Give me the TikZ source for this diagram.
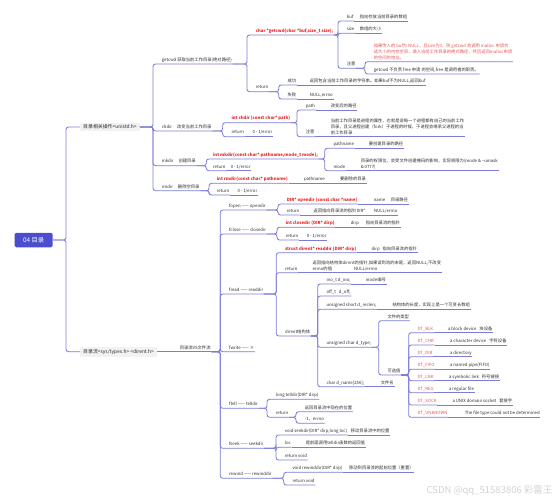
\documentclass[tikz,border=0pt]{standalone}
\usepackage{fontspec}
\setmainfont{Noto Sans CJK SC}
\usetikzlibrary{positioning}

\definecolor{linec}{RGB}{124,124,212}
\definecolor{rootc}{RGB}{76,76,206}
\definecolor{redc}{RGB}{228,38,38}
\definecolor{notec}{RGB}{226,84,84}
\definecolor{textc}{RGB}{45,45,45}
\definecolor{boxc}{RGB}{242,242,242}

\newcommand{\mapfont}{\fontsize{4.3}{6.2}\selectfont}
\newcommand{\lvfont}{\fontsize{4.9}{6}\selectfont}
\newcommand{\rootfont}{\fontsize{6.3}{7}\selectfont}

\begin{document}
\begin{tikzpicture}[x=1pt, y=-1pt,
    t/.style={font=\mapfont, text=textc, inner xsep=0.6pt, inner ysep=1.4pt, anchor=south west, text height=3.5pt, text depth=1.1pt},
    tm/.style={font=\mapfont, text=textc, inner xsep=0.6pt, inner ysep=1.4pt, anchor=south west, align=left},
    fn/.style={t, text=redc, font=\mapfont\bfseries},
    dt/.style={t, text=notec},
    lv/.style={fill=boxc, font=\lvfont, text=textc, inner xsep=3pt, inner ysep=2.2pt, anchor=west},
    root/.style={fill=rootc, text=white, font=\rootfont, rounded corners=1.5pt, minimum width=38pt, minimum height=14.5pt},
    link/.style={draw=linec, line width=0.85pt, rounded corners=2.5pt}
]
\useasboundingbox (0,0) rectangle (557,500);

% root and the two main branches
\node[root] (root) at (33.7,240) {04 目录};
\node[lv] (b1) at (80,127) {目录相关操作<unistd.h>};
\node[lv] (b2) at (80,351.7) {目录流<sys/types.h> <dirent.h>};
\draw[link] (root.east) -| ([xshift=-14pt]b1.west) -- (b1.west);
\draw[link] (root.east) -| ([xshift=-14pt]b2.west) -- (b2.west);

% directory operations
\node[t] (getcwd) at (161,64) {getcwd 获取当前工作目录(绝对路径)};
\node[t] (chdir) at (161,131) {chdir\hspace{5pt}改变当前工作目录};
\node[t] (mkdir) at (161,165.7) {mkdir\hspace{5pt}创建目录};
\node[t] (rmdir) at (161,190.7) {rmdir\hspace{5pt}删除空目录};
\foreach \c in {getcwd,chdir,mkdir,rmdir}
  \draw[link] (b1.east) -| ([xshift=-8pt]\c.south west) -- (\c.south east);

% getcwd
\node[fn] (gcfun) at (255,35) {char *getcwd(char *buf,size\_t size);};
\node[t] (gcret) at (255,91.7) {return};
\foreach \c in {gcfun,gcret}
  \draw[link] (getcwd.south east) -| ([xshift=-8pt]\c.south west) -- (\c.south east);
\node[t] (gcbuf) at (346,21) {buf};
\node[t] (gcbufd) at (359,21) {指向存放当前目录的数组};
\node[t] (gcsize) at (346,33.3) {size};
\node[t] (gcsized) at (359,33.3) {数组的大小};
\node[t] (gcnote) at (346,68.3) {注意};
\foreach \c in {gcbuf,gcsize,gcnote}
  \draw[link] (gcfun.south east) -| ([xshift=-8pt]\c.south west) -- (\c.south east);
\draw[link] (gcbuf.south east) -- (gcbufd.south east);
\draw[link] (gcsize.south east) -- (gcsized.south east);
\node[tm, text=notec] (gcn1) at (373,61.7) {如果传入的 buf为 NULL，且size为0，则 getcwd 会调用 malloc 申请合\\适大小的内存空间，填入当前工作目录的绝对路径，然后返回malloc申请\\的空间的地址。};
\node[t] (gcn2) at (373,74) {getcwd 不负责 free 申请 的空间,free 是调用者的职责。};
\foreach \c in {gcn1,gcn2}
  \draw[link] (gcnote.south east) -| ([xshift=-8pt]\c.south west) -- (\c.south east);
\node[t] (gcok) at (286.7,85) {成功};
\node[t] (gcokd) at (309,85) {返回包含当前工作目录的字符串。如果buf不为NULL,返回buf};
\node[t] (gcfail) at (286.7,99) {失败};
\node[t] (gcfaild) at (309,99) {NULL,errno};
\foreach \c in {gcok,gcfail}
  \draw[link] (gcret.south east) -| ([xshift=-8pt]\c.south west) -- (\c.south east);
\draw[link] (gcok.south east) -- (gcokd.south east);
\draw[link] (gcfail.south east) -- (gcfaild.south east);

% chdir
\node[fn] (cdfun) at (230.7,122.7) {int chdir (const char* path)};
\node[t] (cdret) at (230.7,136.7) {return};
\node[t] (cdretd) at (251.7,136.7) {0 - 1/error};
\foreach \c in {cdfun,cdret}
  \draw[link] (chdir.south east) -| ([xshift=-8pt]\c.south west) -- (\c.south east);
\draw[link] (cdret.south east) -- (cdretd.south east);
\node[t] (cdpath) at (305,110) {path};
\node[t] (cdpathd) at (330,110) {改变后的路径};
\node[t] (cdnote) at (305,136.7) {注意};
\node[tm] (cdnoted) at (330,136.7) {当前工作目录是进程的属性，也就是说每一个进程都有自己的当前工作\\目录，且父进程创建（fork）子进程的时候，子进程会继承父进程的当\\前工作目录};
\foreach \c in {cdpath,cdnote}
  \draw[link] (cdfun.south east) -| ([xshift=-8pt]\c.south west) -- (\c.south east);
\draw[link] (cdpath.south east) -- (cdpathd.south east);
\draw[link] (cdnote.south east) -- (cdnoted.south east);

% mkdir
\node[fn] (mkfun) at (212.3,159) {int mkdir(const char* pathname,mode\_t mode);};
\node[t] (mkret) at (212.3,170.7) {return};
\node[t] (mkretd) at (230,170.7) {0 - 1/error};
\foreach \c in {mkfun,mkret}
  \draw[link] (mkdir.south east) -| ([xshift=-6pt]\c.south west) -- (\c.south east);
\draw[link] (mkret.south east) -- (mkretd.south east);
\node[t] (mkpn) at (332.7,148.3) {pathname};
\node[t] (mkpnd) at (368,148.3) {要创建目录的路径};
\node[t] (mkmode) at (332.7,170.7) {mode};
\node[tm] (mkmoded) at (360,170.7) {目录的权限位，会受文件创建掩码的影响，实际权限为(mode \& \textasciitilde umask\\\& 0777)};
\foreach \c in {mkpn,mkmode}
  \draw[link] (mkfun.south east) -| ([xshift=-8pt]\c.south west) -- (\c.south east);
\draw[link] (mkpn.south east) -- (mkpnd.south east);
\draw[link] (mkmode.south east) -- (mkmoded.south east);

% rmdir
\node[fn] (rmfun) at (216,183.3) {int rmdir(const char* pathname)};
\node[t] (rmpn) at (303.3,183.3) {pathname};
\node[t] (rmpnd) at (339.3,183.3) {要删除的目录};
\node[t] (rmret) at (216,195) {return};
\node[t] (rmretd) at (236.7,195) {0 - 1/error};
\foreach \c in {rmfun,rmret}
  \draw[link] (rmdir.south east) -| ([xshift=-7pt]\c.south west) -- (\c.south east);
\draw[link] (rmfun.south east) -- (rmpn.south east);
\draw[link] (rmpn.south east) -- (rmpnd.south east);
\draw[link] (rmret.south east) -- (rmretd.south east);

% directory streams vs file streams
\node[t] (vs) at (179,351.7) {目录流VS文件流};
\draw[link] (b2.east) -- (vs.south east);
\node[t] (fopen) at (228.3,210) {fopen —— opendir};
\node[t] (fclose) at (228.3,234) {fclose —— closedir};
\node[t] (fread) at (228.3,294) {fread —— readdir};
\node[t] (fwrite) at (228.3,351.7) {fwrite —— ×};
\node[t] (ftell) at (228.3,408.3) {ftell —— telldir};
\node[t] (fseek) at (228.3,448.3) {fseek —— seekdir};
\node[t] (frew) at (228.3,478.3) {rewind —— rewinddir};
\foreach \c in {fopen,fclose,fread,fwrite,ftell,fseek,frew}
  \draw[link] (vs.south east) -| ([xshift=-8pt]\c.south west) -- (\c.south east);

% opendir
\node[fn] (odfun) at (286,204) {DIR* opendir (const char *name)};
\node[t] (odname) at (373,204) {name};
\node[t] (odnamed) at (390,204) {目录路径};
\node[t] (odret) at (286,215) {return};
\node[t] (odretd) at (312.7,215) {返回指向目录流的指针DIR*};
\node[t] (odretn) at (373.3,215) {NULL/errno};
\foreach \c in {odfun,odret}
  \draw[link] (fopen.south east) -| ([xshift=-8pt]\c.south west) -- (\c.south east);
\draw[link] (odfun.south east) -- (odname.south east);
\draw[link] (odname.south east) -- (odnamed.south east);
\draw[link] (odret.south east) -- (odretd.south east);
\draw[link] (odretd.south east) -- (odretn.south east);

% closedir
\node[fn] (cdirfun) at (285,227.3) {int closedir (DIR* dirp)};
\node[t] (cdirp) at (350,227.3) {dirp};
\node[t] (cdirpd) at (365,227.3) {指向目录流的指针};
\node[t] (cdirret) at (285,240) {return};
\node[t] (cdirretd) at (306,240) {0 - 1/error};
\foreach \c in {cdirfun,cdirret}
  \draw[link] (fclose.south east) -| ([xshift=-8pt]\c.south west) -- (\c.south east);
\draw[link] (cdirfun.south east) -- (cdirp.south east);
\draw[link] (cdirp.south east) -- (cdirpd.south east);
\draw[link] (cdirret.south east) -- (cdirretd.south east);

% readdir
\node[fn] (rdfun) at (284.3,252.7) {struct dirent* readdir (DIR* dirp)};
\node[t] (rdirp) at (370.7,252.7) {dirp};
\node[t] (rdirpd) at (381.7,252.7) {指向目录流的指针};
\node[t] (rdret) at (284.3,272.7) {return};
\node[tm] (rdretd) at (311.7,272.7) {返回指向结构体dirent的指针,如果读到流的末尾，返回NULL,不改变\\errno的值\hspace{22pt}NULL/errno};
\node[t] (rdst) at (284.3,336) {dirent结构体};
\foreach \c in {rdfun,rdret,rdst}
  \draw[link] (fread.south east) -| ([xshift=-8pt]\c.south west) -- (\c.south east);
\draw[link] (rdfun.south east) -- (rdirp.south east);
\draw[link] (rdirp.south east) -- (rdirpd.south east);
\draw[link] (rdret.south east) -- (rdretd.south east);

% struct dirent
\node[t] (dino) at (325.7,284) {ino\_t d\_ino;};
\node[t] (dinod) at (365,284) {inode编号};
\node[t] (doff) at (325.7,296) {off\_t\hspace{2pt} d\_off;};
\node[t] (drec) at (325.7,309.3) {unsigned short d\_reclen;};
\node[t] (drecd) at (391.7,309.3) {结构体的长度，实现上是一个可变长数组};
\node[t] (dtype) at (325.7,347.3) {unsigned char d\_type;};
\node[t] (dname) at (325.7,386.7) {char d\_name[256];};
\node[t] (dnamed) at (380,386.7) {文件名};
\foreach \c in {dino,doff,drec,dtype,dname}
  \draw[link] (rdst.south east) -| ([xshift=-8pt]\c.south west) -- (\c.south east);
\draw[link] (dino.south east) -- (dinod.south east);
\draw[link] (drec.south east) -- (drecd.south east);
\draw[link] (dname.south east) -- (dnamed.south east);
\node[t] (dtk) at (386.7,320.7) {文件的类型};
\node[t] (dtv) at (386.7,375) {可选值};
\foreach \c in {dtk,dtv}
  \draw[link] (dtype.south east) -| ([xshift=-8pt]\c.south west) -- (\c.south east);
\foreach \n/\d/\y/\x in {BLK/a block device\hspace{3pt}块设备/332.7/447.3,
    CHR/a character device\hspace{3pt}字符设备/345/449.3,
    DIR/a directory/356.7/449.3,
    FIFO/a named pipe(FIFO)/369.3/449.3,
    LNK/a symbolic link\hspace{3pt}符号链接/380.7/448.3,
    REG/a regular file/392.7/448.3,
    SOCK/a UNIX domain socket\hspace{3pt}套接字/405/451.7,
    UNKNOWN/The file type could not be determined/417.3/464} {
  \node[dt] (dt\n) at (416.7,\y) {DT\_\n};
  \node[t] (dd\n) at (\x,\y) {\d};
  \draw[link] (dtv.south east) -| ([xshift=-8pt]dt\n.south west) -- (dt\n.south east);
  \draw[link] (dt\n.south east) -- (dd\n.south east);
}

% telldir
\node[t] (tdfun) at (275,399.3) {long telldir(DIR* dirp)};
\node[t] (tdret) at (275,417.3) {return};
\foreach \c in {tdfun,tdret}
  \draw[link] (ftell.south east) -| ([xshift=-8pt]\c.south west) -- (\c.south east);
\node[t] (tdr1) at (304,411.7) {返回目录流中现在的位置};
\node[t] (tdr2) at (304,423.3) {-1，errno};
\foreach \c in {tdr1,tdr2}
  \draw[link] (tdret.south east) -| ([xshift=-8pt]\c.south west) -- (\c.south east);

% seekdir
\node[t] (skfun) at (284,435) {void seekdir(DIR* dirp,long loc)};
\node[t] (skfund) at (350,435) {移动目录流中的位置};
\node[t] (skloc) at (284,447.3) {loc};
\node[t] (sklocd) at (305,447.3) {是前面调用telldir函数的返回值};
\node[t] (skret) at (284,460) {return void};
\foreach \c in {skfun,skloc,skret}
  \draw[link] (fseek.south east) -| ([xshift=-8pt]\c.south west) -- (\c.south east);
\draw[link] (skfun.south east) -- (skfund.south east);
\draw[link] (skloc.south east) -- (sklocd.south east);

% rewinddir
\node[t] (rwfun) at (291.7,472.3) {void rewinddir(DIR* dirp)};
\node[t] (rwfund) at (348.3,472.3) {移动到目录流的起始位置（重置）};
\node[t] (rwret) at (291.7,485) {return void};
\foreach \c in {rwfun,rwret}
  \draw[link] (frew.south east) -| ([xshift=-8pt]\c.south west) -- (\c.south east);
\draw[link] (rwfun.south east) -- (rwfund.south east);

\node[anchor=east, text=gray!35, font=\fontsize{9.5}{10}\selectfont] (wm) at (556,491) {CSDN @qq\_51583806 彩雷王};
\end{tikzpicture}
\end{document}
